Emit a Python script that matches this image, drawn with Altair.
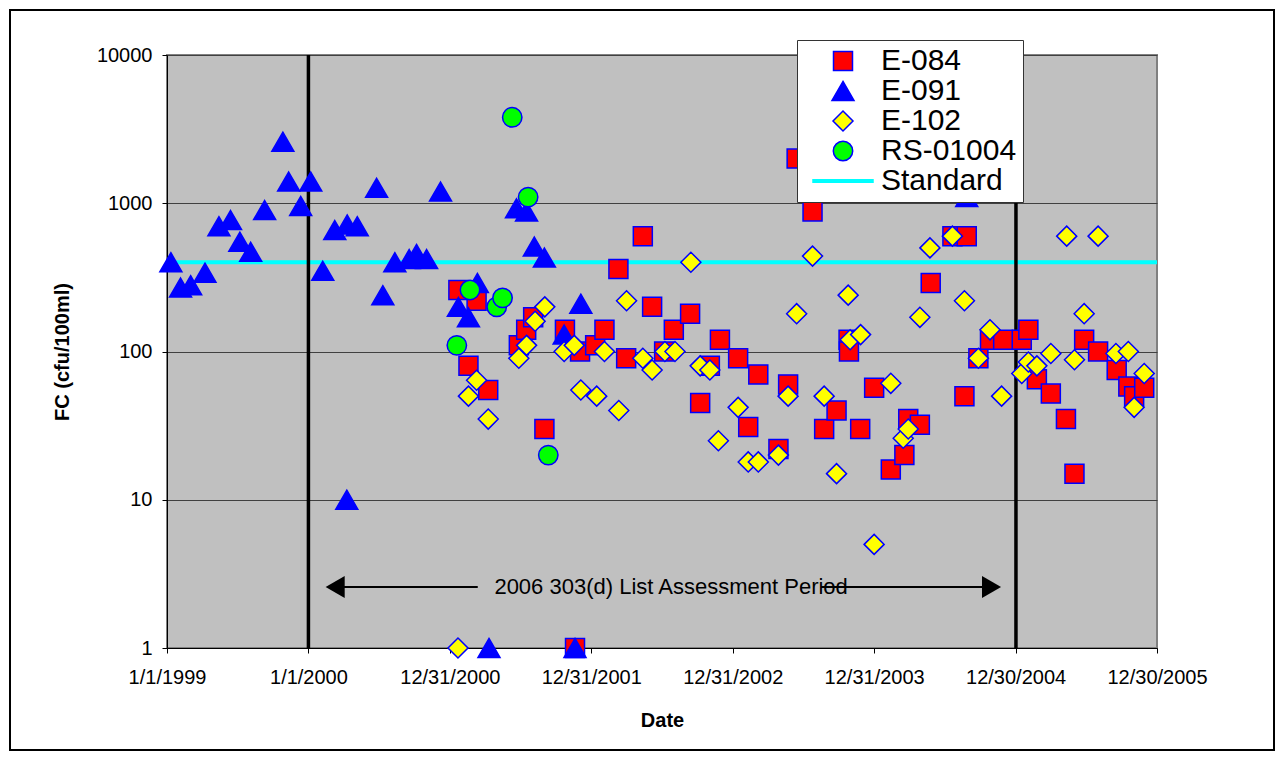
import altair as alt
import pandas as pd

# ---------------- data ----------------
e084_dates = ["2001-01-22", "2001-02-17", "2001-03-10", "2001-04-09", "2001-06-27", "2001-07-16",
              "2001-08-03", "2001-09-01", "2001-10-24", "2001-11-19", "2001-12-02", "2002-01-10",
              "2002-02-03", "2002-03-11", "2002-03-31", "2002-05-13", "2002-06-06", "2002-07-07",
              "2002-08-01", "2002-09-12", "2002-10-08", "2002-11-02", "2002-11-28", "2003-01-14",
              "2003-02-09", "2003-03-07", "2003-04-28", "2003-05-23", "2003-06-14", "2003-07-25",
              "2003-08-24", "2003-09-25", "2003-10-26", "2003-10-27", "2003-11-25", "2003-12-31",
              "2004-02-12", "2004-03-18", "2004-03-28", "2004-04-27", "2004-05-25", "2004-07-20",
              "2004-08-20", "2004-08-26", "2004-09-25", "2004-10-25", "2004-11-28", "2005-01-15",
              "2005-02-01", "2005-02-23", "2005-03-31", "2005-05-09", "2005-05-31", "2005-06-25",
              "2005-07-31", "2005-09-17", "2005-10-17", "2005-11-01", "2005-11-27"]
e084_fc = [260, 80, 220, 55, 110, 140,
           170, 30, 140, 1, 100, 110,
           140, 360, 90, 600, 200, 100,
           140, 180, 45, 80, 120, 90,
           31, 70, 22, 60, 2000, 880,
           30, 40, 120, 100, 30, 57,
           16, 20, 35, 32, 290, 600,
           50, 600, 90, 120, 120, 120,
           140, 65, 52, 35, 15, 120,
           100, 75, 58, 50, 57]

e091_dates = ["1999-01-11", "1999-02-05", "1999-03-03", "1999-04-09", "1999-05-15", "1999-06-14",
              "1999-07-08", "1999-08-05", "1999-09-10", "1999-10-27", "1999-11-11", "1999-12-12",
              "2000-01-07", "2000-02-07", "2000-03-09", "2000-04-10", "2000-04-09", "2000-05-06",
              "2000-06-25", "2000-07-11", "2000-08-11", "2000-09-17", "2000-10-06", "2000-11-01",
              "2000-12-07", "2001-01-22", "2001-02-17", "2001-03-12", "2001-04-11", "2001-06-21",
              "2001-07-17", "2001-08-06", "2001-09-01", "2001-10-22", "2001-11-19", "2001-12-04",
              "2004-08-26"]
e091_fc = [400, 270, 280, 340, 700, 770,
           550, 470, 900, 2600, 1400, 960,
           1400, 350, 660, 720, 10, 700,
           1270, 240, 400, 420, 455, 420,
           1200, 200, 170, 290, 1, 925,
           880, 510, 430, 130, 1, 210,
           1100]

e102_dates = ["2001-01-21", "2001-02-17", "2001-03-10", "2001-04-09", "2001-06-27", "2001-07-17",
              "2001-08-08", "2001-09-02", "2001-10-22", "2001-11-17", "2001-12-04", "2002-01-14",
              "2002-02-03", "2002-03-12", "2002-04-01", "2002-05-13", "2002-06-06", "2002-07-09",
              "2002-08-04", "2002-09-14", "2002-10-08", "2002-11-02", "2002-11-24", "2003-01-14",
              "2003-02-09", "2003-03-07", "2003-04-28", "2003-05-23", "2003-06-14", "2003-07-25",
              "2003-08-24", "2003-09-25", "2003-10-25", "2003-10-30", "2003-11-26", "2003-12-31",
              "2004-02-12", "2004-03-15", "2004-03-28", "2004-04-27", "2004-05-23", "2004-07-20",
              "2004-08-20", "2004-09-25", "2004-10-25", "2004-11-24", "2005-01-15", "2005-02-01",
              "2005-02-23", "2005-03-31", "2005-05-11", "2005-05-31", "2005-06-25", "2005-07-31",
              "2005-09-15", "2005-10-17", "2005-11-01", "2005-11-27"]
e102_fc = [1, 50, 64, 35, 90, 110,
           160, 200, 100, 110, 55, 50,
           100, 40, 220, 90, 75, 100,
           100, 400, 80, 75, 25, 42,
           18, 18, 20, 50, 180, 440,
           50, 15, 240, 120, 130, 5,
           61, 26, 30, 170, 500, 600,
           220, 90, 140, 50, 71, 85,
           80, 97, 600, 88, 180, 600,
           97, 100, 42, 71]

rs_dates = ["2001-01-18", "2001-02-21", "2001-05-01", "2001-05-16", "2001-06-10", "2001-07-21",
            "2001-09-11"]
rs_fc = [110, 260, 200, 230, 3800, 1100, 20]

series_names = ["E-084", "E-091", "E-102", "RS-01004", "Standard"]
fill_colors = ["#FF0000", "#0000FF", "#FFFF00", "#00FF00", "#00FFFF"]
stroke_colors = ["#0000FF", "#0000FF", "#0000FF", "#0000FF", "#00FFFF"]
# triangle drawn a little wider than tall, standard shown as a flat bar
marker_shapes = ["M-0.95,-0.95H0.95V0.95H-0.95Z", "M0,-0.95L1.1,0.95L-1.1,0.95Z",
                 "diamond", "M0.97,0A0.97,0.97,0,1,1,-0.97,0A0.97,0.97,0,1,1,0.97,0",
                 "M-3,-0.12H3V0.12H-3Z"]

standard_fc = [400]
period_bounds = ["2000-01-01", "2004-12-31"]

tick_dates = [(1999, 1, 1), (2000, 1, 1), (2000, 12, 31), (2001, 12, 31),
              (2002, 12, 31), (2003, 12, 31), (2004, 12, 30), (2005, 12, 30)]
x_domain = [(1999, 1, 1), (2005, 12, 30)]
y_ticks = [1, 10, 100, 1000, 10000]

annotation_text = "2006 303(d) List Assessment Period"
annotation_date = "2002-07-25"
annotation_fc = 2.58
arrow_left = ["2000-03-10", "2001-03-13"]
arrow_right = ["2003-08-16", "2004-10-29"]

# ---------------- tables ----------------
rows = []
for name, dates, vals in [("E-084", e084_dates, e084_fc), ("E-091", e091_dates, e091_fc),
                          ("E-102", e102_dates, e102_fc), ("RS-01004", rs_dates, rs_fc)]:
    for d, v in zip(dates, vals):
        rows.append({"series": name, "date": d, "fc": v})
points_df = pd.DataFrame(rows)


def dt(t):
    return alt.DateTime(year=t[0], month=t[1], date=t[2], utc=True)


x_scale = alt.Scale(type="utc", domain=[dt(t) for t in x_domain])
x_axis = alt.Axis(values=[dt(t) for t in tick_dates],
                  labelExpr="utcFormat(datum.value, '%-m/%-d/%Y')",
                  title="Date", grid=False, labelPadding=14, titlePadding=23, tickSize=5,
                  labelFlush=False, labelOverlap=False)
y_scale = alt.Scale(type="log", domain=[1, 10000])
y_axis = alt.Axis(values=y_ticks, format="d", title="FC (cfu/100ml)", grid=True,
                  gridColor="#404040", gridWidth=1, labelPadding=10, titlePadding=24, tickSize=5)

X = lambda f="date": alt.X(f"{f}:T", scale=x_scale, axis=x_axis)
Y = lambda f="fc": alt.Y(f"{f}:Q", scale=y_scale, axis=y_axis)

legend = alt.Legend(title=None, orient="none", legendX=630, legendY=-15,
                    fillColor="#FFFFFF", strokeColor="#333333", padding=6,
                    symbolOffset=25, labelOffset=23, rowPadding=0,
                    labelFontSize=30, labelFont="Liberation Sans", labelColor="black",
                    symbolSize=400, labelLimit=300)

std = alt.Chart(pd.DataFrame({"fc": standard_fc})).mark_rule(
    color="#00FFFF", strokeWidth=4).encode(y=Y())

period = alt.Chart(pd.DataFrame({"date": period_bounds})).mark_rule(
    color="black", strokeWidth=3.5).encode(x=X())

arrows_df = pd.DataFrame({"start": [arrow_left[0], arrow_right[0]],
                          "end": [arrow_left[1], arrow_right[1]],
                          "fc": [annotation_fc, annotation_fc]})
arrow_lines = alt.Chart(arrows_df).mark_rule(color="black", strokeWidth=2).encode(
    x=X("start"), x2="end:T", y=Y())

head_l = alt.Chart(pd.DataFrame({"date": [arrow_left[0]], "fc": [annotation_fc]})).mark_point(
    shape="triangle-left", filled=True, color="black", size=484, opacity=1).encode(x=X(), y=Y())
head_r = alt.Chart(pd.DataFrame({"date": [arrow_right[1]], "fc": [annotation_fc]})).mark_point(
    shape="triangle-right", filled=True, color="black", size=484, opacity=1).encode(x=X(), y=Y())

label = alt.Chart(pd.DataFrame({"date": [annotation_date], "fc": [annotation_fc],
                                "t": [annotation_text]})).mark_text(
    font="Liberation Sans", fontSize=22, color="black", align="center", baseline="middle"
).encode(x=X(), y=Y(), text="t:N")

points = alt.Chart(points_df).mark_point(
    filled=True, opacity=1, strokeWidth=1.5, size=400
).encode(
    x=X(), y=Y(),
    color=alt.Color("series:N", scale=alt.Scale(domain=series_names, range=fill_colors), legend=legend),
    stroke=alt.Stroke("series:N", scale=alt.Scale(domain=series_names, range=stroke_colors), legend=legend),
    shape=alt.Shape("series:N", scale=alt.Scale(domain=series_names, range=marker_shapes), legend=legend),
)

frame = alt.Chart(pd.DataFrame({"k": [0]})).mark_rect(
    fillOpacity=0, stroke="black", strokeWidth=2).encode(
    x=alt.value(-157), x2=alt.value(1107), y=alt.value(-45), y2=alt.value(695))

chart = alt.layer(std, period, arrow_lines, head_l, head_r, label, points, frame).properties(
    width=990, height=593,
    padding={"left": 159, "top": 47, "right": 118, "bottom": 104},
    autosize=alt.AutoSizeParams(type="none"),
).configure(background="white").configure_view(
    fill="#C0C0C0", stroke="#808080", strokeWidth=2
).configure_axis(
    labelFont="Liberation Sans", labelFontSize=20, labelColor="black",
    titleFont="Liberation Sans", titleFontSize=20, titleFontWeight="bold", titleColor="black",
    domainColor="black", tickColor="black"
)

chart.save("out.html", embed_options={"renderer": "svg", "actions": False})
